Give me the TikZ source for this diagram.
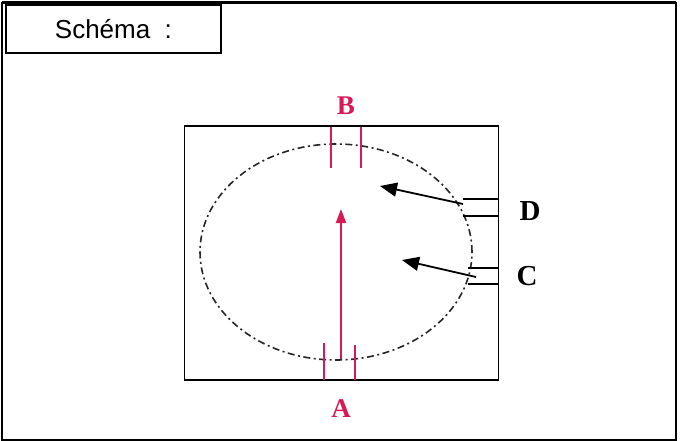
\documentclass[tikz,border=0pt]{standalone}
\usepackage{fontspec}
\setmainfont{Liberation Serif}
\newfontfamily\labelsans{Liberation Sans}
\usetikzlibrary{arrows.meta}
\definecolor{crim}{RGB}{215,25,85}
\tikzset{
  frame/.style={draw=black, line width=2pt},
  box/.style={draw=black, line width=1.9pt},
  oval/.style={draw=black!85, line width=1.6pt, dash pattern=on 7pt off 3.5pt on 2pt off 3.5pt},
  redtick/.style={draw=crim, line width=1.9pt},
  blacktick/.style={draw=black, line width=1.6pt},
  redlbl/.style={text=crim, font=\fontsize{27}{29}\selectfont\bfseries, inner sep=0pt},
  blklbl/.style={text=black, font=\fontsize{29}{31}\selectfont\bfseries, inner sep=0pt},
  ptr/.style={draw=black, line width=1.8pt, -{Triangle[length=17pt,width=14pt]}},
  redptr/.style={draw=crim, line width=2pt, -{Triangle[length=14pt,width=10pt]}}
}
\begin{document}
\begin{tikzpicture}[x=1pt,y=-1pt]
\useasboundingbox (0,0) rectangle (680,441);
% outer frame
\draw[frame] (1.5,3) rectangle (676,439.5);
\draw[black, line width=3pt] (1.5,3) -- (676,3);
% title box
\node[box, minimum width=215pt, minimum height=48pt, anchor=north west, inner sep=0pt,
      font=\labelsans\fontsize{26}{28}\selectfont] (title) at (5,4) {Schéma\ \ :};
% inner rectangle
\draw[box] (184.5,126) rectangle (498.5,380);
% dashed ellipse
\draw[oval] (336,252) ellipse [x radius=136pt, y radius=108pt];
% B ticks
\coordinate (b1t) at (331,127); \coordinate (b1b) at (331,168);
\coordinate (b2t) at (361,127); \coordinate (b2b) at (361,168);
\draw[redtick] (b1t) -- (b1b);
\draw[redtick] (b2t) -- (b2b);
% A ticks
\coordinate (a1t) at (324,343); \coordinate (a1b) at (324,380);
\coordinate (a2t) at (355,345); \coordinate (a2b) at (355,380);
\draw[redtick] (a1t) -- (a1b);
\draw[redtick] (a2t) -- (a2b);
% red arrow
\coordinate (rs) at (341,359); \coordinate (re) at (341,209);
\draw[redptr] (rs) -- (re);
% D ticks
\coordinate (d1l) at (463,199); \coordinate (d1r) at (498.5,199);
\coordinate (d2l) at (463,216); \coordinate (d2r) at (498.5,216);
\draw[blacktick] (d1l) -- (d1r);
\draw[blacktick] (d2l) -- (d2r);
% C ticks
\coordinate (c1l) at (468,268); \coordinate (c1r) at (498.5,268);
\coordinate (c2l) at (468,284); \coordinate (c2r) at (498.5,284);
\draw[blacktick] (c1l) -- (c1r);
\draw[blacktick] (c2l) -- (c2r);
% pointers
\coordinate (dtail) at (463,204); \coordinate (dtip) at (380,186);
\coordinate (ctail) at (476,277); \coordinate (ctip) at (402,260);
\draw[ptr] (dtail) -- (dtip);
\draw[ptr] (ctail) -- (ctip);
% labels
\node[redlbl] (B) at (346,106) {B};
\node[redlbl] (A) at (341,409) {A};
\node[blklbl] (D) at (530,211) {D};
\node[blklbl] (C) at (527,276) {C};
\end{tikzpicture}
\end{document}
